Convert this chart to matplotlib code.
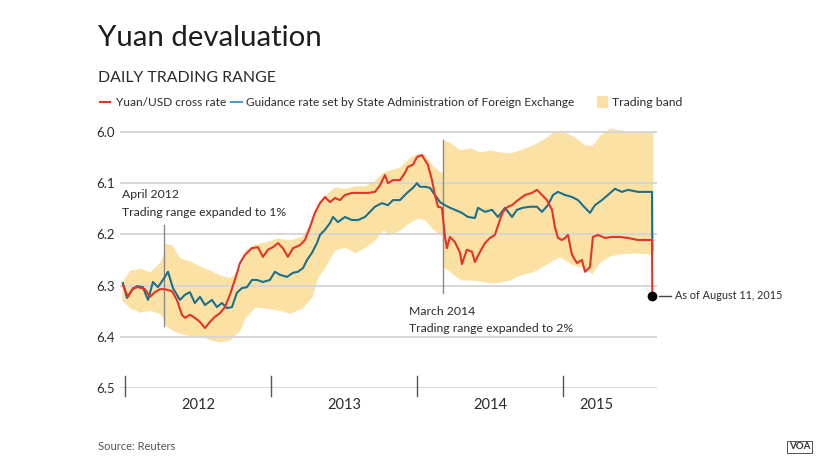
import matplotlib
matplotlib.use('Agg')
import matplotlib.pyplot as plt
from matplotlib.lines import Line2D
from matplotlib.patches import Rectangle

plt.rcParams['font.family'] = ['Lato', 'DejaVu Sans']

# dates in decimal years, values in yuan per dollar
red_t = [2011.986, 2012.021, 2012.055, 2012.089, 2012.137, 2012.171, 2012.205, 2012.240, 2012.274, 2012.322,
         2012.356, 2012.390, 2012.411, 2012.445, 2012.479, 2012.514, 2012.548, 2012.582, 2012.616, 2012.651,
         2012.685, 2012.719, 2012.753, 2012.788, 2012.822, 2012.870, 2012.911, 2012.945, 2012.979, 2013.014,
         2013.048, 2013.082, 2013.116, 2013.151, 2013.199, 2013.233, 2013.267, 2013.301, 2013.336, 2013.370,
         2013.404, 2013.438, 2013.473, 2013.507, 2013.555, 2013.610, 2013.664, 2013.712, 2013.747, 2013.781,
         2013.801, 2013.836, 2013.884, 2013.918, 2013.938, 2013.973, 2014.000, 2014.034, 2014.055, 2014.075,
         2014.103, 2014.123, 2014.144, 2014.171, 2014.192, 2014.205, 2014.226, 2014.260, 2014.295, 2014.308,
         2014.342, 2014.377, 2014.397, 2014.432, 2014.466, 2014.500, 2014.534, 2014.568, 2014.589, 2014.623,
         2014.651, 2014.692, 2014.740, 2014.788, 2014.822, 2014.856, 2014.890, 2014.925, 2014.945, 2014.966,
         2014.993, 2015.014, 2015.034, 2015.062, 2015.096, 2015.130, 2015.151, 2015.185, 2015.205, 2015.240,
         2015.288, 2015.336, 2015.390, 2015.445, 2015.514, 2015.610, 2015.612]
red_v = [6.299, 6.322, 6.305, 6.303, 6.307, 6.322, 6.313, 6.307, 6.307, 6.311,
         6.328, 6.357, 6.363, 6.357, 6.363, 6.371, 6.383, 6.371, 6.361, 6.354,
         6.342, 6.318, 6.289, 6.256, 6.240, 6.227, 6.225, 6.244, 6.230, 6.225,
         6.217, 6.227, 6.244, 6.227, 6.221, 6.211, 6.186, 6.158, 6.139, 6.127,
         6.137, 6.129, 6.133, 6.123, 6.119, 6.119, 6.119, 6.117, 6.104, 6.084,
         6.100, 6.094, 6.094, 6.080, 6.068, 6.064, 6.049, 6.045, 6.055, 6.064,
         6.094, 6.123, 6.146, 6.148, 6.205, 6.227, 6.205, 6.215, 6.236, 6.258,
         6.230, 6.234, 6.254, 6.234, 6.217, 6.207, 6.201, 6.172, 6.156, 6.146,
         6.143, 6.133, 6.123, 6.119, 6.113, 6.123, 6.133, 6.152, 6.186, 6.207,
         6.211, 6.207, 6.201, 6.240, 6.256, 6.250, 6.273, 6.264, 6.205, 6.201,
         6.207, 6.205, 6.205, 6.207, 6.211, 6.211, 6.320]

blue_t = [2011.986, 2012.014, 2012.048, 2012.082, 2012.123, 2012.158, 2012.192, 2012.226, 2012.260, 2012.295,
          2012.329, 2012.377, 2012.411, 2012.445, 2012.479, 2012.514, 2012.548, 2012.596, 2012.630, 2012.664,
          2012.699, 2012.733, 2012.767, 2012.801, 2012.836, 2012.870, 2012.904, 2012.945, 2012.993, 2013.027,
          2013.062, 2013.110, 2013.151, 2013.185, 2013.219, 2013.247, 2013.281, 2013.315, 2013.336, 2013.370,
          2013.404, 2013.425, 2013.459, 2013.507, 2013.555, 2013.596, 2013.644, 2013.678, 2013.712, 2013.760,
          2013.801, 2013.836, 2013.884, 2013.932, 2013.973, 2014.000, 2014.021, 2014.055, 2014.089, 2014.123,
          2014.158, 2014.192, 2014.226, 2014.260, 2014.308, 2014.349, 2014.397, 2014.418, 2014.466, 2014.514,
          2014.555, 2014.603, 2014.651, 2014.685, 2014.726, 2014.774, 2014.822, 2014.856, 2014.897, 2014.932,
          2014.966, 2015.014, 2015.062, 2015.103, 2015.151, 2015.185, 2015.219, 2015.267, 2015.308, 2015.356,
          2015.404, 2015.445, 2015.514, 2015.610, 2015.612]
blue_v = [6.295, 6.324, 6.309, 6.301, 6.303, 6.328, 6.293, 6.303, 6.289, 6.273,
          6.305, 6.328, 6.318, 6.313, 6.334, 6.322, 6.338, 6.328, 6.342, 6.334,
          6.344, 6.342, 6.314, 6.305, 6.303, 6.289, 6.289, 6.293, 6.289, 6.273,
          6.279, 6.283, 6.275, 6.273, 6.266, 6.250, 6.236, 6.217, 6.201, 6.191,
          6.178, 6.166, 6.176, 6.166, 6.172, 6.172, 6.166, 6.156, 6.146, 6.139,
          6.143, 6.133, 6.133, 6.119, 6.109, 6.100, 6.107, 6.107, 6.109, 6.123,
          6.137, 6.143, 6.148, 6.152, 6.158, 6.166, 6.168, 6.148, 6.156, 6.152,
          6.166, 6.148, 6.166, 6.152, 6.148, 6.146, 6.146, 6.156, 6.143, 6.123,
          6.117, 6.123, 6.127, 6.133, 6.148, 6.158, 6.143, 6.133, 6.123, 6.111,
          6.117, 6.113, 6.117, 6.117, 6.230]

band_t = [2011.979, 2012.034, 2012.103, 2012.171, 2012.240, 2012.260, 2012.274, 2012.322, 2012.377, 2012.445,
          2012.514, 2012.582, 2012.651, 2012.719, 2012.788, 2012.822, 2012.890, 2012.959, 2013.048, 2013.130,
          2013.212, 2013.281, 2013.322, 2013.370, 2013.438, 2013.507, 2013.575, 2013.644, 2013.712, 2013.767,
          2013.815, 2013.884, 2013.952, 2014.007, 2014.055, 2014.103, 2014.158, 2014.178, 2014.182, 2014.226,
          2014.295, 2014.363, 2014.432, 2014.500, 2014.568, 2014.637, 2014.705, 2014.795, 2014.877, 2014.932,
          2014.979, 2015.068, 2015.151, 2015.199, 2015.253, 2015.322, 2015.390, 2015.493, 2015.596, 2015.616]
band_hi = [6.293, 6.270, 6.266, 6.273, 6.254, 6.240, 6.217, 6.221, 6.246, 6.252,
           6.262, 6.270, 6.279, 6.285, 6.266, 6.230, 6.219, 6.215, 6.207, 6.211,
           6.203, 6.176, 6.139, 6.123, 6.107, 6.111, 6.105, 6.105, 6.094, 6.078,
           6.074, 6.068, 6.049, 6.041, 6.045, 6.064, 6.078, 6.078, 6.016, 6.020,
           6.035, 6.031, 6.039, 6.035, 6.039, 6.041, 6.035, 6.025, 6.012, 6.000,
           5.996, 6.008, 6.025, 6.027, 6.006, 5.992, 5.996, 6.000, 6.000, 6.002]
band_lo = [6.328, 6.344, 6.352, 6.348, 6.355, 6.363, 6.377, 6.387, 6.393, 6.398,
           6.398, 6.406, 6.410, 6.406, 6.387, 6.363, 6.342, 6.344, 6.348, 6.354,
           6.344, 6.322, 6.283, 6.264, 6.230, 6.225, 6.236, 6.225, 6.211, 6.191,
           6.201, 6.191, 6.176, 6.168, 6.172, 6.188, 6.201, 6.201, 6.264, 6.273,
           6.289, 6.289, 6.291, 6.295, 6.293, 6.289, 6.279, 6.273, 6.260, 6.250,
           6.244, 6.260, 6.266, 6.277, 6.254, 6.242, 6.238, 6.236, 6.238, 6.240]

y_ticks = [6.0, 6.1, 6.2, 6.3, 6.4, 6.5]
years = ['2012', '2013', '2014', '2015']
year_starts = [2012.0, 2013.0, 2014.0, 2015.0]
year_label_pos = [2012.5, 2013.5, 2014.5, 2015.23]

RED = '#e5332a'
BLUE = '#1d6f8e'
BAND = '#fbe2a4'
TXT = '#2b2b2b'

fig = plt.figure(figsize=(8.2, 4.61), dpi=100)
ax = fig.add_axes([0.1463, 0.1584, 0.6549, 0.5775])

ax.fill_between(band_t, band_lo, band_hi, color=BAND, lw=0, zorder=1)
for v in y_ticks:
    ax.axhline(v, color='#d6d6d6', lw=1.4, zorder=1.5)
ax.plot(blue_t, blue_v, color=BLUE, lw=1.5, zorder=3)
ax.plot(red_t, red_v, color=RED, lw=1.5, zorder=4)

ax.set_xlim(2011.966, 2015.644)
ax.set_ylim(6.5, 5.98)
ax.set_yticks(y_ticks)
ax.set_yticklabels(['%.1f' % v for v in y_ticks])
ax.set_xticks([])
ax.tick_params(axis='y', length=0, pad=4, labelsize=9.5, labelcolor=TXT)
for s in ax.spines.values():
    s.set_visible(False)

# year ticks and labels
for t in year_starts:
    ax.plot([t, t], [6.477, 6.516], color='#555555', lw=1, clip_on=False, zorder=5)
for t, lab in zip(year_label_pos, years):
    ax.text(t, 6.534, lab, ha='center', va='center', fontsize=10.5, color=TXT, clip_on=False)

# policy changes
ax.plot([2012.267, 2012.267], [6.182, 6.379], color='#8a8a8a', lw=1, zorder=2)
ax.text(2011.98, 6.123, 'April 2012', fontsize=8.8, color=TXT, va='center')
ax.text(2011.98, 6.158, 'Trading range expanded to 1%', fontsize=8.8, color=TXT, va='center')
ax.plot([2014.178, 2014.178], [6.016, 6.314], color='#8a8a8a', lw=1, zorder=2)
ax.text(2013.945, 6.350, 'March 2014', fontsize=8.8, color=TXT, va='center')
ax.text(2013.945, 6.383, 'Trading range expanded to 2%', fontsize=8.8, color=TXT, va='center')

# last point
ax.plot([2015.612], [6.320], 'o', color='black', ms=6, zorder=6, clip_on=False)
ax.plot([2015.66, 2015.74], [6.320, 6.320], color='#444444', lw=1, clip_on=False)
ax.text(2015.77, 6.320, 'As of August 11, 2015', fontsize=7.8, color=TXT, va='center', clip_on=False)

# titles
fig.text(0.1195, 0.9002, 'Yuan devaluation', fontsize=21.2, color='#1e1e1e', va='baseline')
fig.text(0.1195, 0.822, 'DAILY TRADING RANGE', fontsize=11.4, color=TXT, va='baseline')

# legend, drawn by hand
ly = 1 - 102 / 461
fig.add_artist(Line2D([100 / 820, 110 / 820], [ly, ly], color=RED, lw=1.5))
fig.text(116 / 820, ly, 'Yuan/USD cross rate', fontsize=8.6, color=TXT, va='center')
fig.add_artist(Line2D([231 / 820, 242 / 820], [ly, ly], color='#4f9ccc', lw=1.5))
fig.text(246 / 820, ly, 'Guidance rate set by State Administration of Foreign Exchange', fontsize=8.6,
         color=TXT, va='center')
fig.add_artist(Rectangle((597 / 820, ly - 6 / 461), 11 / 820, 12 / 461, color=BAND, lw=0))
fig.text(612 / 820, ly, 'Trading band', fontsize=8.8, color=TXT, va='center')

fig.text(0.1195, 0.031, 'Source: Reuters', fontsize=8, color='#555555', va='center')
fig.text(0.975, 0.031, 'VOA', fontsize=7, color='#333333', va='center', ha='center', fontweight='bold',
         bbox=dict(boxstyle='square,pad=0.15', fc='white', ec='#333333', lw=0.6))

fig.savefig('out.png', dpi=100)
